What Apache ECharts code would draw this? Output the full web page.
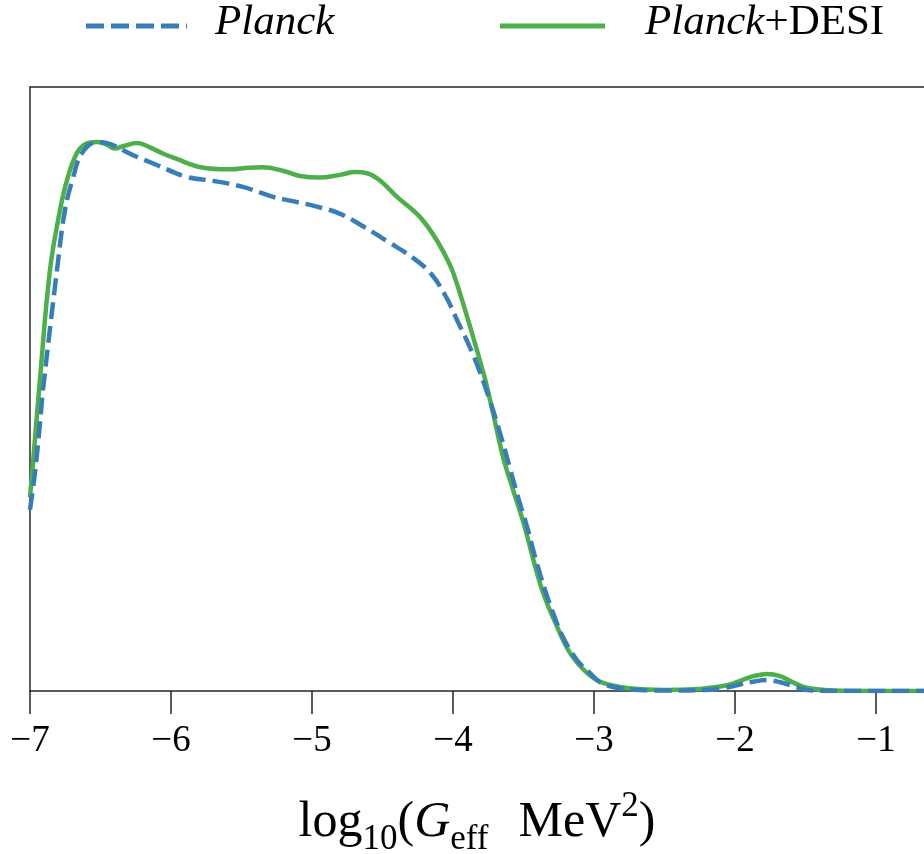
<!DOCTYPE html>
<html>
<head>
<meta charset="utf-8">
<script src="https://cdn.jsdelivr.net/npm/echarts@6/dist/echarts.min.js"></script>
<style>
  html, body { margin: 0; padding: 0; background: #fff; overflow: hidden; }
  #chart { width: 924px; height: 854px; }
</style>
</head>
<body>
<div id="chart"></div>
<script>
// Normalised 1D posterior of log10(G_eff MeV^2)
const planckX = [-7.0, -6.965, -6.929, -6.908, -6.8, -6.752, -6.70, -6.63, -6.525, -6.43, -6.27, -6.1,
  -5.886, -5.70, -5.49, -5.277, -5.156, -4.98, -4.80, -4.63, -4.46, -4.29, -4.156, -4.05, -3.965, -3.887,
  -3.823, -3.74, -3.652, -3.596, -3.539, -3.475, -3.418, -3.348, -3.29, -3.22, -3.12, -3.03, -2.957,
  -2.82, -2.5, -2.2, -2.085, -1.98, -1.894, -1.773, -1.68, -1.61, -1.49, -1.3, -0.66];
const planckY = [0.33, 0.397, 0.488, 0.548, 0.785, 0.876, 0.93, 0.98, 1.0, 0.996, 0.976, 0.958,
  0.936, 0.929, 0.918, 0.90, 0.893, 0.883, 0.869, 0.845, 0.818, 0.79, 0.76, 0.718, 0.672, 0.63,
  0.59, 0.53, 0.457, 0.405, 0.353, 0.299, 0.244, 0.184, 0.142, 0.098, 0.056, 0.033, 0.016,
  0.005, 0.001, 0.002, 0.005, 0.011, 0.016, 0.02, 0.016, 0.011, 0.002, 0.0, 0.0];

const desiX = [-7.0, -6.979, -6.93, -6.858, -6.787, -6.738, -6.667, -6.6, -6.52, -6.45, -6.40, -6.33,
  -6.24, -6.15, -6.05, -5.96, -5.79, -5.58, -5.45, -5.35, -5.2, -5.085, -4.95, -4.8, -4.695, -4.61,
  -4.52, -4.397, -4.234, -4.113, -4.02, -3.97, -3.858, -3.773, -3.716, -3.645, -3.574, -3.50, -3.43,
  -3.36, -3.262, -3.17, -3.05, -2.936, -2.745, -2.5, -2.3, -2.18, -2.05, -1.95, -1.87, -1.773, -1.68,
  -1.6, -1.52, -1.42, -1.3, -0.66];
const desiY = [0.353, 0.415, 0.566, 0.767, 0.876, 0.93, 0.98, 0.997, 1.0, 0.994, 0.988, 0.993,
  0.998, 0.99, 0.978, 0.969, 0.954, 0.95, 0.953, 0.954, 0.947, 0.938, 0.935, 0.94, 0.945, 0.943,
  0.93, 0.90, 0.863, 0.82, 0.775, 0.74, 0.645, 0.568, 0.506, 0.426, 0.366, 0.306, 0.239,
  0.178, 0.117, 0.069, 0.033, 0.0146, 0.005, 0.002, 0.003, 0.006, 0.011, 0.02, 0.027, 0.031, 0.027,
  0.017, 0.008, 0.003, 0.001, 0.0];

const seriesNames = ['Planck', 'Planck+DESI'];
const xTickValues = [-7, -6, -5, -4, -3, -2, -1];
const xRange = { min: -7, max: -0.66, interval: 1 };

const SERIF = '"Liberation Serif", "DejaVu Serif", serif';
const BLUE = '#377eb8';
const GREEN = '#4daf4a';
const AXIS = '#262626';
const zip = (xs, ys) => xs.map((x, i) => [x, ys[i]]);
const minus = v => (v < 0 ? '\u2212' + Math.abs(v) : String(v));

// legend keys: a dashed bar and a solid bar
const dashedKey = 'path://M0,0h18v5h-18z M25,0h18v5h-18z M50,0h18v5h-18z M75,0h18v5h-18z M100,0h1v5h-1z';
const solidKey = 'path://M0,0h105v5h-105z';

const legendText = (padLeft) => ({
  lineHeight: 52,
  rich: {
    i: { fontFamily: SERIF, fontStyle: 'italic', fontSize: 43, color: '#000', padding: [0, 0, 6, padLeft] },
    r: { fontFamily: SERIF, fontSize: 43, color: '#000', padding: [0, 0, 6, 0] }
  }
});

const chart = echarts.init(document.getElementById('chart'), null, { renderer: 'canvas' });
chart.setOption({
  animation: false,
  backgroundColor: '#fff',
  grid: { left: 30, top: 87, bottom: 163, right: 0, show: false, outerBoundsMode: 'none', containLabel: false },
  legend: [
    {
      data: [{ name: seriesNames[0], icon: dashedKey, itemStyle: { color: BLUE } }],
      left: 86, top: 0, padding: 0, itemWidth: 101, itemHeight: 5,
      formatter: () => '{i|Planck}', textStyle: legendText(23)
    },
    {
      data: [{ name: seriesNames[1], icon: solidKey, itemStyle: { color: GREEN } }],
      left: 500, top: 0, padding: 0, itemWidth: 105, itemHeight: 5,
      formatter: () => '{i|Planck}{r|+DESI}', textStyle: legendText(35)
    }
  ],
  xAxis: [
    {
      type: 'value', min: xRange.min, max: xRange.max, interval: xRange.interval,
      axisLine: { lineStyle: { color: AXIS, width: 1.5 } },
      axisTick: { show: true, length: 23, customValues: xTickValues, lineStyle: { color: AXIS, width: 1.5 } },
      axisLabel: {
        customValues: xTickValues, formatter: minus, margin: 32,
        fontFamily: SERIF, fontSize: 37, color: '#000'
      },
      splitLine: { show: false },
      name: '{t|log}{s|10}{t|(}{it|G}{s|eff}{m|MeV}{p|2}{t|)}',
      nameLocation: 'middle', nameGap: 98,
      nameTextStyle: {
        rich: {
          t: { fontFamily: SERIF, fontSize: 50, color: '#000', lineHeight: 68, verticalAlign: 'middle' },
          m: { fontFamily: SERIF, fontSize: 50, color: '#000', lineHeight: 68, verticalAlign: 'middle', padding: [0, 0, 0, 30] },
          it: { fontFamily: SERIF, fontSize: 50, fontStyle: 'italic', color: '#000', lineHeight: 68, verticalAlign: 'middle' },
          s: { fontFamily: SERIF, fontSize: 35, color: '#000', lineHeight: 42, verticalAlign: 'bottom' },
          p: { fontFamily: SERIF, fontSize: 35, color: '#000', lineHeight: 42, verticalAlign: 'top' }
        }
      }
    },
    {
      type: 'value', position: 'top', min: xRange.min, max: xRange.max, interval: xRange.interval,
      axisLine: { show: true, lineStyle: { color: AXIS, width: 1.5 } },
      axisTick: { show: false }, axisLabel: { show: false }, splitLine: { show: false }
    }
  ],
  yAxis: {
    type: 'value', min: 0, max: 1.1,
    axisLine: { show: true, lineStyle: { color: AXIS, width: 1.5 } },
    axisTick: { show: false }, axisLabel: { show: false }, splitLine: { show: false }
  },
  series: [
    {
      name: seriesNames[0], type: 'line', data: zip(planckX, planckY),
      showSymbol: false, symbol: 'none', smooth: 0.4, z: 3,
      lineStyle: { color: BLUE, width: 4.5, type: [17, 7], cap: 'butt' },
      itemStyle: { color: BLUE }
    },
    {
      name: seriesNames[1], type: 'line', data: zip(desiX, desiY),
      showSymbol: false, symbol: 'none', smooth: 0.4, z: 2,
      lineStyle: { color: GREEN, width: 4.5 },
      itemStyle: { color: GREEN }
    }
  ]
});
</script>
</body>
</html>
